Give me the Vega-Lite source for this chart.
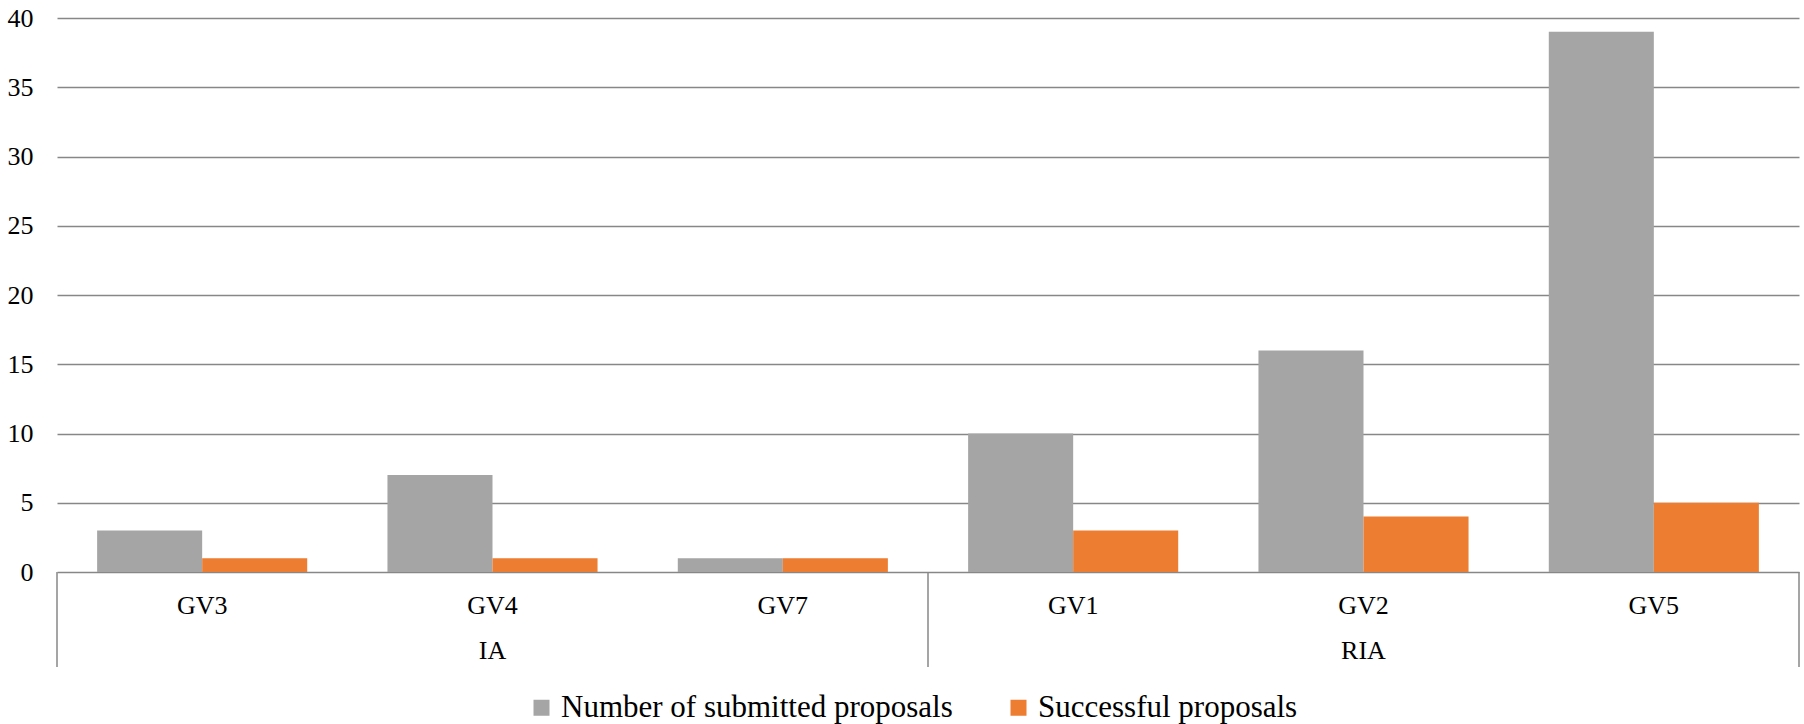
{
  "$schema": "https://vega.github.io/schema/vega-lite/v6.json",
  "width": 1742,
  "height": 554,
  "autosize": {"type": "none"},
  "padding": {"left": 57, "top": 18, "right": 5, "bottom": 152},
  "background": "white",
  "config": {
    "font": "'Liberation Serif', 'DejaVu Serif', serif",
    "axis": {"labelFont": "'Liberation Serif', 'DejaVu Serif', serif"},
    "legend": {"labelFont": "'Liberation Serif', 'DejaVu Serif', serif"},
    "view": {"stroke": null}
  },
  "data": {
    "values": [
      {"call": "IA", "topic": "GV3", "series": "Number of submitted proposals", "value": 3},
      {"call": "IA", "topic": "GV3", "series": "Successful proposals", "value": 1},
      {"call": "IA", "topic": "GV4", "series": "Number of submitted proposals", "value": 7},
      {"call": "IA", "topic": "GV4", "series": "Successful proposals", "value": 1},
      {"call": "IA", "topic": "GV7", "series": "Number of submitted proposals", "value": 1},
      {"call": "IA", "topic": "GV7", "series": "Successful proposals", "value": 1},
      {"call": "RIA", "topic": "GV1", "series": "Number of submitted proposals", "value": 10},
      {"call": "RIA", "topic": "GV1", "series": "Successful proposals", "value": 3},
      {"call": "RIA", "topic": "GV2", "series": "Number of submitted proposals", "value": 16},
      {"call": "RIA", "topic": "GV2", "series": "Successful proposals", "value": 4},
      {"call": "RIA", "topic": "GV5", "series": "Number of submitted proposals", "value": 39},
      {"call": "RIA", "topic": "GV5", "series": "Successful proposals", "value": 5}
    ]
  },
  "layer": [
    {
      "mark": {"type": "bar"},
      "encoding": {
        "x": {
          "field": "topic", "type": "nominal",
          "sort": ["GV3", "GV4", "GV7", "GV1", "GV2", "GV5"],
          "scale": {"paddingInner": 0, "paddingOuter": 0},
          "axis": {
            "title": null, "domain": false, "ticks": false, "grid": false,
            "labelAngle": 0, "labelPadding": 20, "labelBaseline": "top",
            "labelFont": "'Liberation Serif', 'DejaVu Serif', serif",
            "labelFontSize": 26, "labelColor": "#000000", "labelLineHeight": 45.5,
            "labelExpr": "datum.value == 'GV4' ? ['GV4', 'IA'] : datum.value == 'GV2' ? ['GV2', 'RIA'] : datum.value"
          }
        },
        "xOffset": {
          "field": "series", "type": "nominal",
          "sort": ["Number of submitted proposals", "Successful proposals"],
          "scale": {"paddingInner": 0, "paddingOuter": 0.382}
        },
        "y": {
          "field": "value", "type": "quantitative",
          "scale": {"domain": [0, 40]},
          "axis": {
            "title": null, "domain": false, "ticks": false, "grid": true,
            "gridColor": "#878787", "gridWidth": 1.5,
            "values": [0, 5, 10, 15, 20, 25, 30, 35, 40],
            "labelFont": "'Liberation Serif', 'DejaVu Serif', serif",
            "labelPadding": 24, "labelFontSize": 26, "labelColor": "#000000"
          }
        },
        "color": {
          "field": "series", "type": "nominal",
          "scale": {"domain": ["Number of submitted proposals", "Successful proposals"], "range": ["#A5A5A5", "#ED7D31"]},
          "legend": {
            "orient": "none", "legendX": 469, "legendY": 674, "direction": "horizontal", "title": null,
            "symbolType": "square", "symbolSize": 256, "symbolStrokeWidth": 0,
            "labelFont": "'Liberation Serif', 'DejaVu Serif', serif",
            "labelFontSize": 31, "labelColor": "#000000", "labelOffset": 4,
            "columnPadding": 50, "labelLimit": 0
          }
        }
      }
    },
    {
      "transform": [{"filter": "(datum.topic == 'GV3' || datum.topic == 'GV1') && datum.series == 'Successful proposals'"}],
      "mark": {"type": "rule", "color": "#878787", "strokeWidth": 1.5},
      "encoding": {
        "x": {"field": "topic", "type": "nominal", "sort": ["GV3", "GV4", "GV7", "GV1", "GV2", "GV5"], "bandPosition": 0},
        "y": {"datum": 0, "type": "quantitative"},
        "y2": {"datum": -6.86}
      }
    },
    {
      "transform": [{"filter": "datum.topic == 'GV5' && datum.series == 'Successful proposals'"}],
      "mark": {"type": "rule", "color": "#878787", "strokeWidth": 1.5},
      "encoding": {
        "x": {"field": "topic", "type": "nominal", "sort": ["GV3", "GV4", "GV7", "GV1", "GV2", "GV5"], "bandPosition": 1},
        "y": {"datum": 0, "type": "quantitative"},
        "y2": {"datum": -6.86}
      }
    }
  ]
}
